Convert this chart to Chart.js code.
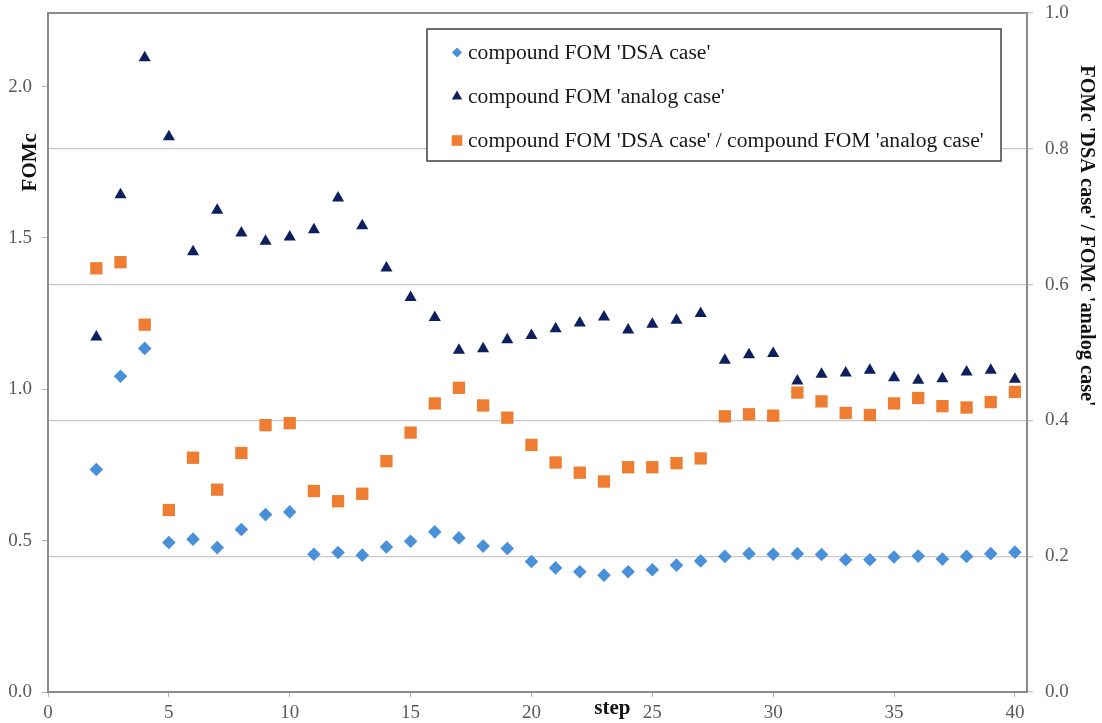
<!DOCTYPE html>
<html>
<head>
<meta charset="utf-8">
<script src="https://cdn.jsdelivr.net/npm/chart.js@4.4.1/dist/chart.umd.min.js"></script>
<style>
  html, body { margin: 0; padding: 0; background: #fff; }
  #wrap { width: 1102px; height: 723px; }
</style>
</head>
<body>
<div id="wrap"><canvas id="chart" width="1102" height="723"></canvas></div>
<script>
const steps = [2, 3, 4, 5, 6, 7, 8, 9, 10, 11, 12, 13, 14, 15, 16, 17, 18, 19, 20, 21,
  22, 23, 24, 25, 26, 27, 28, 29, 30, 31, 32, 33, 34, 35, 36, 37, 38, 39, 40];

const fomDsa = [0.735, 1.043, 1.135, 0.494, 0.505, 0.477, 0.537, 0.586, 0.595, 0.455,
  0.461, 0.452, 0.479, 0.498, 0.529, 0.509, 0.482, 0.474, 0.431, 0.410,
  0.397, 0.386, 0.397, 0.404, 0.419, 0.433, 0.448, 0.457, 0.455, 0.457,
  0.454, 0.437, 0.437, 0.446, 0.449, 0.439, 0.448, 0.457, 0.462];

const fomAnalog = [1.173, 1.643, 2.095, 1.834, 1.454, 1.591, 1.516, 1.489, 1.503, 1.527,
  1.632, 1.540, 1.401, 1.303, 1.237, 1.129, 1.134, 1.164, 1.178, 1.200,
  1.219, 1.239, 1.196, 1.215, 1.228, 1.250, 1.096, 1.114, 1.118, 1.027,
  1.050, 1.054, 1.063, 1.038, 1.030, 1.035, 1.057, 1.063, 1.033];

const fomRatio = [0.624, 0.633, 0.541, 0.268, 0.345, 0.298, 0.352, 0.393, 0.396, 0.296,
  0.281, 0.292, 0.340, 0.382, 0.425, 0.448, 0.422, 0.404, 0.364, 0.338,
  0.323, 0.310, 0.331, 0.331, 0.337, 0.344, 0.406, 0.409, 0.407, 0.441,
  0.428, 0.411, 0.408, 0.425, 0.433, 0.421, 0.419, 0.427, 0.442];

const xTicks = [0, 5, 10, 15, 20, 25, 30, 35, 40];
const leftTicks = [0, 0.5, 1.0, 1.5, 2.0];
const rightTicks = [0, 0.2, 0.4, 0.6, 0.8, 1.0];

const seriesLabels = [
  "compound FOM 'DSA case'",
  "compound FOM 'analog case'",
  "compound FOM 'DSA case' / compound FOM 'analog case'",
];

const serif = "'Liberation Serif', 'DejaVu Serif', serif";
const tickColor = "#595959";
const axisColor = "#8c8c8c";

function toPoints(values) {
  return steps.map((s, i) => ({ x: s, y: values[i] }));
}

function fixTicks(list) {
  return (scale) => {
    scale.ticks = list.map((v) => ({ value: v }));
  };
}

// keep the label overhang from pushing the plot area down
function fitSize(prop, size) {
  return (scale) => {
    scale[prop] = size;
    scale.paddingTop = 0;
    scale.paddingBottom = 0;
    scale.paddingLeft = 0;
    scale.paddingRight = 0;
  };
}

// legend drawn as a framed box inside the plot, like the original
const legendBox = {
  id: "legendBox",
  afterDatasetsDraw(chart) {
    const { ctx, chartArea } = chart;
    const left = chartArea.left + 379;
    const top = chartArea.top + 16;
    const width = 574;
    const height = 132;
    const markerSizes = [5, 6, 7.5];

    ctx.save();
    ctx.fillStyle = "#ffffff";
    ctx.fillRect(left, top, width, height);
    ctx.strokeStyle = "#404040";
    ctx.lineWidth = 1.5;
    ctx.strokeRect(left, top, width, height);

    ctx.font = `21.6px ${serif}`;
    ctx.textBaseline = "middle";
    ctx.textAlign = "left";

    chart.data.datasets.forEach((ds, i) => {
      const cy = top + 23.5 + i * 44;
      ctx.fillStyle = ds.backgroundColor;
      Chart.helpers.drawPoint(ctx, { pointStyle: ds.pointStyle, radius: markerSizes[i], rotation: 0, borderWidth: 0 }, left + 30, cy);
      ctx.fillStyle = "#1a1a1a";
      ctx.fillText(ds.label, left + 41, cy + 1);
    });
    ctx.restore();
  },
};

// axis titles and the top frame line
const axisTitles = {
  id: "axisTitles",
  beforeDatasetsDraw(chart) {
    const { ctx, chartArea } = chart;
    ctx.save();
    ctx.strokeStyle = axisColor;
    ctx.lineWidth = 2;
    ctx.beginPath();
    ctx.moveTo(chartArea.left, chartArea.top);
    ctx.lineTo(chartArea.right, chartArea.top);
    ctx.stroke();
    ctx.restore();
  },
  afterDraw(chart) {
    const { ctx, chartArea, scales } = chart;
    ctx.save();
    ctx.fillStyle = "#111111";
    ctx.font = `bold 21px ${serif}`;
    ctx.textAlign = "center";
    ctx.textBaseline = "middle";

    ctx.save();
    ctx.translate(31, scales.yLeft.getPixelForValue(1.75));
    ctx.rotate(-Math.PI / 2);
    ctx.fillText("FOMc", 0, 0);
    ctx.restore();

    ctx.save();
    ctx.font = `bold 20.3px ${serif}`;
    ctx.translate(1086, chartArea.top + 223);
    ctx.rotate(Math.PI / 2);
    ctx.fillText("FOMc 'DSA case' / FOMc 'analog case'", 0, 0);
    ctx.restore();

    ctx.fillText("step", scales.x.getPixelForValue(23.35), 709);
    ctx.restore();
  },
};

new Chart(document.getElementById("chart"), {
  type: "scatter",
  data: {
    datasets: [
      {
        label: seriesLabels[0],
        data: toPoints(fomDsa),
        yAxisID: "yLeft",
        pointStyle: "rectRot",
        pointRadius: 6.8,
        backgroundColor: "#4a90d9",
        borderWidth: 0,
      },
      {
        label: seriesLabels[1],
        data: toPoints(fomAnalog),
        yAxisID: "yLeft",
        pointStyle: "triangle",
        pointRadius: 7,
        backgroundColor: "#0c1f5e",
        borderWidth: 0,
      },
      {
        label: seriesLabels[2],
        data: toPoints(fomRatio),
        yAxisID: "yRight",
        pointStyle: "rect",
        pointRadius: 8.7,
        backgroundColor: "#ee7d31",
        borderWidth: 0,
      },
    ],
  },
  options: {
    responsive: false,
    animation: false,
    layout: { padding: { top: 13, left: 0, right: 0, bottom: 0 } },
    plugins: {
      legend: { display: false },
      tooltip: { enabled: false },
    },
    scales: {
      x: {
        type: "linear",
        min: 0,
        max: 40.5,
        afterBuildTicks: fixTicks(xTicks),
        afterFit: fitSize("height", 31),
        ticks: { color: tickColor, font: { family: serif, size: 19 }, padding: 5 },
        grid: { drawOnChartArea: false, drawTicks: true, tickLength: 5, color: "#b0b0b0" },
        border: { display: true, color: axisColor, width: 2 },
      },
      yLeft: {
        type: "linear",
        position: "left",
        min: 0,
        max: 2.243,
        afterBuildTicks: fixTicks(leftTicks),
        afterFit: fitSize("width", 48),
        ticks: {
          color: tickColor,
          font: { family: serif, size: 19 },
          padding: 10,
          callback: (v) => Number(v).toFixed(1),
        },
        grid: { drawOnChartArea: false, drawTicks: true, tickLength: 6, color: "#b0b0b0" },
        border: { display: true, color: axisColor, width: 2 },
      },
      yRight: {
        type: "linear",
        position: "right",
        min: 0,
        max: 1.0,
        afterBuildTicks: fixTicks(rightTicks),
        afterFit: fitSize("width", 75),
        ticks: {
          color: tickColor,
          font: { family: serif, size: 19 },
          padding: 12,
          callback: (v) => Number(v).toFixed(1),
        },
        grid: { drawOnChartArea: true, drawTicks: true, tickLength: 6, color: "#c8c8c8", lineWidth: 1.3 },
        border: { display: true, color: axisColor, width: 2 },
      },
    },
  },
  plugins: [axisTitles, legendBox],
});
</script>
</body>
</html>
